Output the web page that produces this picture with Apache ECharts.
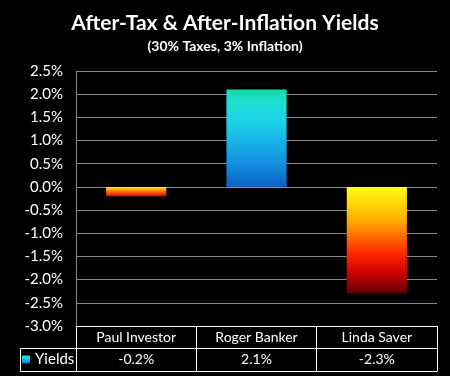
<!DOCTYPE html>
<html><head><meta charset="utf-8">
<script src="https://cdn.jsdelivr.net/npm/echarts@6/dist/echarts.min.js"></script>
<style>html,body{margin:0;padding:0;background:#000;}#c{width:450px;height:376px;}</style>
</head><body><div id="c"></div>
<script>
const categories = ['Paul Investor', 'Roger Banker', 'Linda Saver'];
const yields = [-0.2, 2.1, -2.3];
const seriesName = 'Yields';
const yTicks = {min: -3, max: 2.5, interval: 0.5};
const FONT = 'Lato';

const posGrad = new echarts.graphic.LinearGradient(0, 0, 0, 1, [
  {offset: 0, color: '#18d8a8'}, {offset: 0.12, color: '#1ee0d0'},
  {offset: 0.35, color: '#1ccfea'}, {offset: 0.75, color: '#1490e0'}, {offset: 1, color: '#0b60c0'}]);
const negGrad = new echarts.graphic.LinearGradient(0, 0, 0, 1, [
  {offset: 0, color: '#ffff10'}, {offset: 0.3, color: '#ffb000'},
  {offset: 0.62, color: '#ff2a00'}, {offset: 0.8, color: '#d00000'}, {offset: 1, color: '#600000'}]);
const smallNegGrad = new echarts.graphic.LinearGradient(0, 0, 0, 1, [
  {offset: 0, color: '#ffee00'}, {offset: 0.5, color: '#ff7000'}, {offset: 1, color: '#e00000'}]);

const chart = echarts.init(document.getElementById('c'));
const G = {left: 76, right: 13, top: 71, bottom: 50};
chart.setOption({
  backgroundColor: '#000',
  animation: false,
  textStyle: {fontFamily: FONT},
  title: {
    text: 'After-Tax & After-Inflation Yields',
    subtext: '(30% Taxes, 3% Inflation)',
    left: 'center', top: 8, itemGap: 5,
    textStyle: {color: '#fff', fontSize: 21, fontWeight: 'bold', fontFamily: FONT},
    subtextStyle: {color: '#fff', fontSize: 14, fontWeight: 'bold', fontFamily: FONT}
  },
  legend: {
    data: [seriesName], left: 22, top: 352, itemWidth: 8, itemHeight: 8, itemGap: 4,
    icon: 'rect', textStyle: {color: '#fff', fontSize: 15, fontFamily: FONT}, padding: 0,
    selectedMode: false
  },
  grid: G,
  xAxis: [
    {type: 'category', data: categories, position: 'bottom',
     axisLine: {show: true, onZero: false, lineStyle: {color: '#fff', width: 1}},
     axisTick: {show: true, length: 45, lineStyle: {color: '#fff'}},
     axisLabel: {color: '#fff', fontSize: 14, margin: 4, fontFamily: FONT}},
    {type: 'category', data: categories, position: 'bottom', offset: 22,
     axisLine: {show: true, onZero: false, lineStyle: {color: '#fff', width: 1}},
     axisTick: {show: false},
     axisLabel: {color: '#fff', fontSize: 14, margin: 4, fontFamily: FONT,
       formatter: (v, i) => yields[i].toFixed(1) + '%'}},
    {type: 'category', data: categories, position: 'bottom', offset: 45,
     axisLine: {show: true, onZero: false, lineStyle: {color: '#fff', width: 1}},
     axisTick: {show: false}, axisLabel: {show: false}}
  ],
  yAxis: {
    type: 'value', min: yTicks.min, max: yTicks.max, interval: yTicks.interval,
    axisLine: {show: true, lineStyle: {color: '#888'}},
    axisTick: {show: false},
    splitLine: {show: true, lineStyle: {color: '#8a8a8a', width: 1}},
    axisLabel: {color: '#fff', fontSize: 15, margin: 13, fontFamily: FONT,
      formatter: v => v.toFixed(1) + '%'}
  },
  series: [{
    name: seriesName, type: 'bar', xAxisIndex: 0, barWidth: '50%',
    itemStyle: {color: posGrad},
    data: yields.map(v => ({value: v, itemStyle: {color: v >= 0 ? posGrad : (v > -0.5 ? smallNegGrad : negGrad)}}))
  }],
  graphic: [
    {type: 'polyline', shape: {points: [[76, 348.5], [20.5, 348.5], [20.5, 371.5], [76, 371.5]]},
     style: {stroke: '#fff', lineWidth: 1, fill: null}}
  ]
});
</script></body></html>
